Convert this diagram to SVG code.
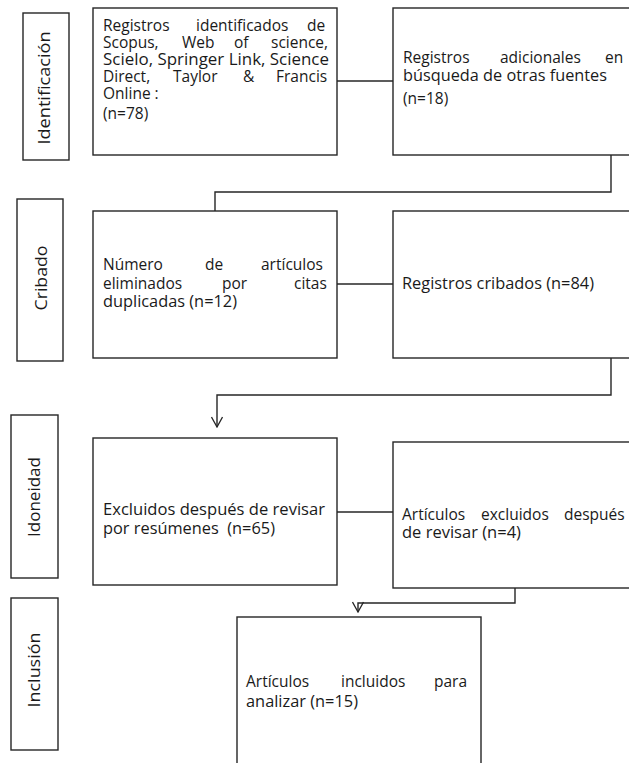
<svg xmlns="http://www.w3.org/2000/svg" width="629" height="763" viewBox="0 0 629 763">
<style>
.box{fill:#fff;stroke:#262626;stroke-width:1.4}
.lbl{fill:#fff;stroke:#262626;stroke-width:1.4}
.t{font-family:"Open Sans","Liberation Sans",sans-serif;font-size:15.5px;fill:#1a1a1a}
.lt{font-family:"Open Sans","Liberation Sans",sans-serif;font-size:17px;fill:#1a1a1a}
.conn{fill:none;stroke:#262626;stroke-width:1.4}
</style>
<defs>
<marker id="arr" viewBox="0 0 12 12" refX="11" refY="6" markerWidth="12" markerHeight="12" markerUnits="userSpaceOnUse" orient="auto">
<path d="M1,0.5 L11,6 L1,11.5" fill="none" stroke="#262626" stroke-width="1.3"/>
</marker>
</defs>
<rect width="629" height="763" fill="#fff"/>
<g id="connectors">
<line class="conn" x1="337" y1="81" x2="393" y2="81"/>
<path class="conn" d="M611,155 V192 H215 V211"/>
<line class="conn" x1="337" y1="284" x2="393" y2="284"/>
<path class="conn" d="M611,358 V395 H217 V427" marker-end="url(#arr)"/>
<line class="conn" x1="337" y1="512" x2="393" y2="512"/>
<path class="conn" d="M515,588 V603 H358 V612" marker-end="url(#arr)"/>
</g>
<g id="lbl-identificacion">
<rect class="lbl" x="23" y="13" width="46" height="147"/>
<text class="lt" transform="translate(50,88) rotate(-90)" text-anchor="middle" textLength="113" lengthAdjust="spacingAndGlyphs">Identificación</text>
</g>
<g id="lbl-cribado">
<rect class="lbl" x="17" y="199" width="46" height="162"/>
<text class="lt" transform="translate(47,278) rotate(-90)" text-anchor="middle" textLength="65" lengthAdjust="spacingAndGlyphs">Cribado</text>
</g>
<g id="lbl-idoneidad">
<rect class="lbl" x="11" y="415" width="47" height="163"/>
<text class="lt" transform="translate(40,497) rotate(-90)" text-anchor="middle" textLength="80" lengthAdjust="spacingAndGlyphs">Idoneidad</text>
</g>
<g id="lbl-inclusion">
<rect class="lbl" x="11" y="598" width="47" height="152"/>
<text class="lt" transform="translate(40,670) rotate(-90)" text-anchor="middle" textLength="75" lengthAdjust="spacingAndGlyphs">Inclusión</text>
</g>
<g id="box-registros">
<rect class="box" x="93" y="8" width="244" height="147"/>
<text class="t"><tspan x="103" y="31">Registros</tspan><tspan x="196" y="31">identificados</tspan><tspan x="307" y="31">de</tspan></text>
<text class="t"><tspan x="103" y="48">Scopus,</tspan><tspan x="182" y="48">Web</tspan><tspan x="234" y="48">of</tspan><tspan x="271" y="48">science,</tspan></text>
<text class="t" x="103" y="65" textLength="226" lengthAdjust="spacingAndGlyphs">Scielo, Springer Link, Science</text>
<text class="t"><tspan x="103" y="82">Direct,</tspan><tspan x="173" y="82">Taylor</tspan><tspan x="243" y="82">&amp;</tspan><tspan x="276" y="82">Francis</tspan></text>
<text class="t" x="103" y="99">Online :</text>
<text class="t" x="103" y="119">(n=78)</text>
</g>
<g id="box-adicionales">
<rect class="box" x="393" y="8" width="245" height="147"/>
<text class="t"><tspan x="403" y="63">Registros</tspan><tspan x="500" y="63">adicionales</tspan><tspan x="605" y="63">en</tspan></text>
<text class="t" x="403" y="81" textLength="204" lengthAdjust="spacingAndGlyphs">búsqueda de otras fuentes</text>
<text class="t" x="403" y="104">(n=18)</text>
</g>
<g id="box-eliminados">
<rect class="box" x="93" y="211" width="244" height="147"/>
<text class="t"><tspan x="103" y="270">Número</tspan><tspan x="205" y="270">de</tspan><tspan x="261" y="270">artículos</tspan></text>
<text class="t"><tspan x="103" y="289">eliminados</tspan><tspan x="222" y="289">por</tspan><tspan x="294" y="289">citas</tspan></text>
<text class="t" x="103" y="307" textLength="134" lengthAdjust="spacingAndGlyphs">duplicadas (n=12)</text>
</g>
<g id="box-cribados">
<rect class="box" x="393" y="211" width="245" height="147"/>
<text class="t" x="402" y="289" textLength="192" lengthAdjust="spacingAndGlyphs">Registros cribados (n=84)</text>
</g>
<g id="box-excluidos-resumenes">
<rect class="box" x="93" y="438" width="244" height="147"/>
<text class="t" x="103" y="515" textLength="222" lengthAdjust="spacingAndGlyphs">Excluidos después de revisar</text>
<text class="t" x="103" y="534" textLength="172" lengthAdjust="spacingAndGlyphs" xml:space="preserve">por resúmenes  (n=65)</text>
</g>
<g id="box-excluidos-revisar">
<rect class="box" x="393" y="442" width="245" height="146"/>
<text class="t"><tspan x="402" y="520">Artículos</tspan><tspan x="481" y="520">excluidos</tspan><tspan x="564" y="520">después</tspan></text>
<text class="t" x="402" y="538" textLength="119" lengthAdjust="spacingAndGlyphs">de revisar (n=4)</text>
</g>
<g id="box-incluidos">
<rect class="box" x="237" y="617" width="244" height="160"/>
<text class="t"><tspan x="246" y="687">Artículos</tspan><tspan x="341" y="687">incluidos</tspan><tspan x="434" y="687">para</tspan></text>
<text class="t" x="246" y="707" textLength="112" lengthAdjust="spacingAndGlyphs">analizar (n=15)</text>
</g>
</svg>
